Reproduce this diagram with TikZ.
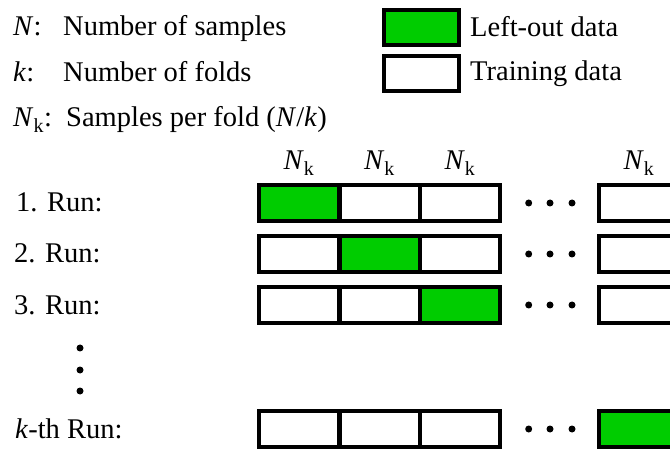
\documentclass[tikz,border=0pt]{standalone}
\usepackage{fontspec}
\setmainfont{Liberation Serif}
\definecolor{leftout}{RGB}{0,204,0}
\newcommand{\Nk}{\textit{N}\textsubscript{k}}
\begin{document}
\begin{tikzpicture}[x=1pt,y=-1pt,
  txt/.style={anchor=base west,inner sep=0pt,font=\fontsize{28.5}{34}\selectfont},
  hdr/.style={anchor=base,inner sep=0pt,font=\fontsize{28.5}{34}\selectfont},
  fold/.style={draw=black,line width=4pt,fill=white,minimum width=80pt,minimum height=36pt,inner sep=0pt},
  leftbox/.style={fold,fill=leftout},
  dot/.style={circle,fill=black,inner sep=0pt,minimum size=7pt}]
\useasboundingbox (0,0) rectangle (670,449);

% definitions
\node[txt] (defN) at (13,36) {\textit{N}:};
\node[txt] (defNt) at (63,36) {Number of samples};
\node[txt] (defk) at (13,82) {\textit{k}:};
\node[txt] (defkt) at (63,82) {Number of folds};
\node[txt] (defNk) at (13,127) {\Nk:};
\node[txt] (defNkt) at (66,127) {Samples per fold (\textit{N}/\textit{k})};

% legend
\node[leftbox,minimum width=75pt,minimum height=34.4pt] (legout) at (421.2,27.5) {};
\node[fold,minimum width=75pt,minimum height=34.7pt] (legtrain) at (421.2,73.4) {};
\node[txt] (legoutt) at (470,37) {Left-out data};
\node[txt] (legtraint) at (470,81) {Training data};

% fold headers
\foreach \c/\x in {1/299,2/379.5,3/460,4/639}
  \node[hdr] (h\c) at (\x,170) {\Nk};

% run labels
\node[txt] (l1) at (16,212) {1. Run:};
\node[txt] (l2) at (14,263) {2. Run:};
\node[txt] (l3) at (14,315) {3. Run:};
\node[txt] (lk) at (15,438) {\textit{k}-th Run:};

% folds of each run
\foreach \r/\y/\g in {1/203/1,2/254/2,3/305/3,k/429/4}{
  \foreach \c/\x in {1/299,2/379.5,3/460,4/639}{
    \ifnum\c=\g
      \node[leftbox] (r\r c\c) at (\x,\y) {};
    \else
      \node[fold] (r\r c\c) at (\x,\y) {};
    \fi
  }
  \foreach \i/\x in {1/528.7,2/550,3/572}
    \node[dot] (d\r\i) at (\x,\y) {};
}

% vertical ellipsis between run 3 and run k
\foreach \i/\y in {1/348,2/370,3/391}
  \node[dot] (v\i) at (80,\y) {};
\end{tikzpicture}
\end{document}
